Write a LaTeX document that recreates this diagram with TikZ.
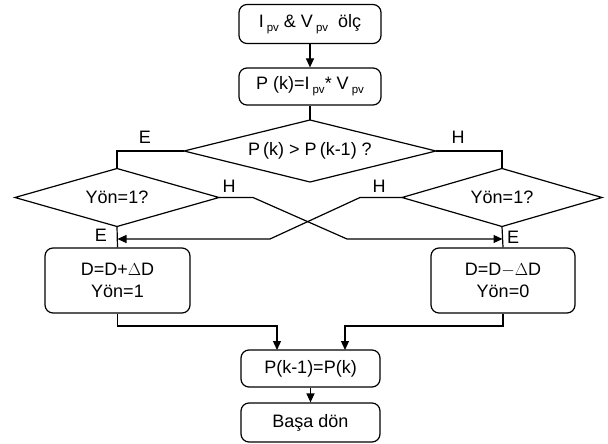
\documentclass[tikz,border=0pt]{standalone}
\usepackage{fontspec}
\setmainfont{Liberation Sans}
\usetikzlibrary{arrows.meta,shapes.geometric}
\newcommand{\pvsub}{{\fontsize{11.5}{11.5}\selectfont\raisebox{-4pt}{pv}}}
\begin{document}
\begin{tikzpicture}[x=1pt,y=-1pt,
  every node/.style={font=\fontsize{18}{22}\selectfont},
  proc/.style={draw,line width=1.2pt,rounded corners=8pt,inner sep=0pt},
  dec/.style={draw,line width=1.2pt,diamond,inner sep=0pt,outer sep=0pt},
  ln/.style={line width=1.2pt},
  arr/.style={line width=1.2pt,-{Triangle[length=9pt,width=8pt]}},
  lab/.style={inner sep=0pt}]
\useasboundingbox (0,0) rectangle (608,444);
% boxes
\node[proc,minimum width=142pt,minimum height=39pt] (b1) at (310,24) {I\,\pvsub\ \& V\,\pvsub\ \ ölç};
\node[proc,minimum width=142pt,minimum height=37pt] (b2) at (310,86.5) {P (k)=I\,\pvsub* V\,\pvsub};
\node[dec,aspect=4.06,minimum width=252pt,minimum height=62pt] (d1) at (310,151) {P\,(k) > P\,(k-1) ?};
\node[dec,aspect=3.52,minimum width=204pt,minimum height=58pt] (dl) at (117,197.5) {Yön=1?};
\node[dec,aspect=3.45,minimum width=200pt,minimum height=58pt] (dr) at (502,197.5) {Yön=1?};
\node[proc,minimum width=145pt,minimum height=65pt,align=center] (bl) at (117.5,280.5) {D=D+$\Delta$D\\Yön=1};
\node[proc,minimum width=144pt,minimum height=65pt,align=center] (br) at (503,280.5) {D=D$-\Delta$D\\Yön=0};
\node[proc,minimum width=139pt,minimum height=37pt] (b3) at (310.5,368.5) {P(k-1)=P(k)};
\node[proc,minimum width=139pt,minimum height=39pt] (b4) at (310.5,422.5) {Başa dön};
% connectors
\draw[arr] (b1.south) -- (b2.north);
\draw[ln] (b2.south) -- (d1.north);
\draw[ln] (d1.west) -| (dl.north);
\draw[ln] (d1.east) -| (dr.north);
\coordinate (el) at (117.5,239);
\coordinate (er) at (502.5,239);
\draw[ln] (dl.south) -- (bl.north);
\draw[ln] (dr.south) -- (br.north);
\draw[arr] (dl.east) -- (253,197.5) -- (347,239) -- (er);
\draw[arr] (dr.west) -- (360,197.5) -- (270,239) -- (el);
\draw[arr] (bl.south) |- (277,326) -- (277,350);
\draw[arr] (br.south) |- (345,326) -- (345,350);
\draw[arr] (b3.south) -- (b4.north);
% labels
\node[lab] (le1) at (145,137) {E};
\node[lab] (lh1) at (458,137) {H};
\node[lab] (lh2) at (229,186) {H};
\node[lab] (lh3) at (379,186) {H};
\node[lab] (le2) at (101,235) {E};
\node[lab] (le3) at (513,237) {E};
\end{tikzpicture}
\end{document}
